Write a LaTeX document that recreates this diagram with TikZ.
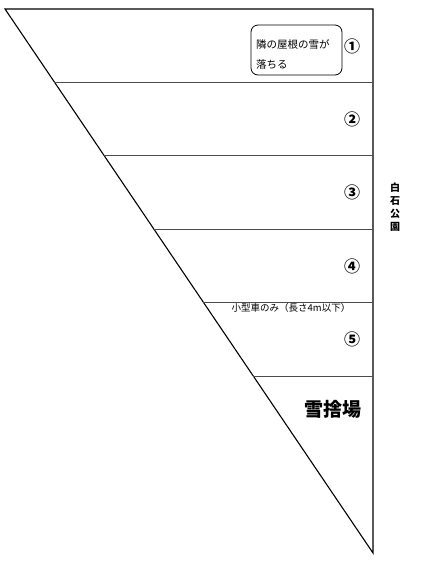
\documentclass[tikz,border=0pt]{standalone}
\usepackage{fontspec}
\newfontfamily\cjk{Noto Sans CJK JP}
\begin{document}
\begin{tikzpicture}[x=1pt,y=-1pt,
  edge/.style={draw=black,line width=1.1pt},
  sep/.style={draw=black!70,line width=0.8pt},
  num/.style={font=\cjk\bfseries\fontsize{16}{16}\selectfont,inner sep=0pt},
  lbl/.style={font=\cjk\fontsize{10.5}{18}\selectfont,inner sep=0pt,align=left}]
\useasboundingbox (0,0) rectangle (423,566);
\coordinate (tl) at (5,9);
\coordinate (tr) at (373,9);
\coordinate (bt) at (373,553);
\draw[edge,line join=miter] (tl) -- (tr) -- (bt) -- cycle;
\foreach \y [count=\i] in {82,155,229,302,376}{
  \coordinate (l\i) at ({5+(\y-9)/544*368},\y);
  \coordinate (r\i) at (373,\y);
  \draw[sep] (l\i) -- (r\i);
}
\node[draw,rounded corners=7pt,line width=0.8pt,minimum width=91pt,minimum height=50pt] (box) at (296.5,50) {};
\node[lbl,anchor=west] (t1) at (256,44) {隣の屋根の雪が};
\node[lbl,anchor=west] (t2) at (256,65) {落ちる};
\node[num] (n1) at (352,46) {①};
\node[num] (n2) at (352,119) {②};
\node[num] (n3) at (352,192) {③};
\node[num] (n4) at (352,266) {④};
\node[num] (n5) at (352,339) {⑤};
\node[font=\cjk\fontsize{9.5}{10}\selectfont,inner sep=0pt] (small) at (291,308) {小型車のみ（長さ4m以下）};
\node[font=\cjk\bfseries\fontsize{19}{20}\selectfont,inner sep=0pt] (snow) at (333,409) {雪捨場};
\node[font=\cjk\bfseries\fontsize{10}{13}\selectfont,inner sep=0pt,align=center] (park) at (395,207) {白\\石\\公\\園};
\end{tikzpicture}
\end{document}
